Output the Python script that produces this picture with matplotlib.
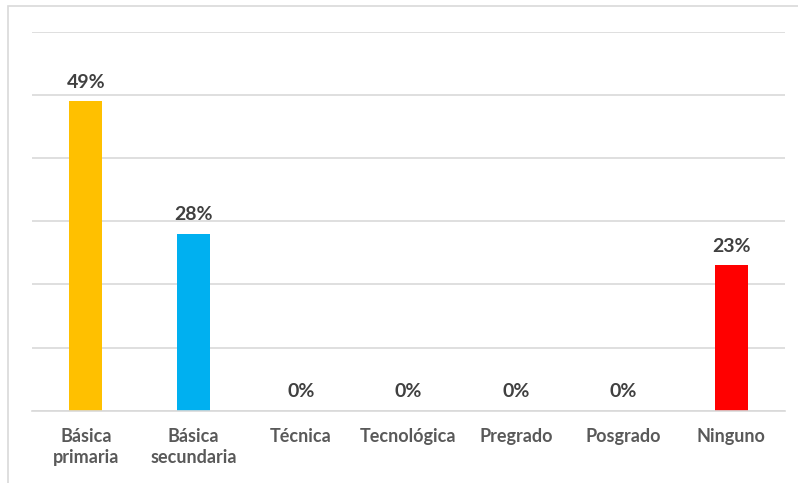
import matplotlib
matplotlib.use("Agg")
import matplotlib.pyplot as plt
from matplotlib.patches import Rectangle

categories = ["Básica\nprimaria", "Básica\nsecundaria", "Técnica", "Tecnológica",
              "Pregrado", "Posgrado", "Ninguno"]
values = [0.49, 0.28, 0.0, 0.0, 0.0, 0.0, 0.23]
colors = ["#FFC000", "#00B0F0", "#FFC000", "#FFC000", "#FFC000", "#FFC000", "#FF0000"]
value_labels = ["49%", "28%", "0%", "0%", "0%", "0%", "23%"]

W, H = 798, 483
fig = plt.figure(figsize=(W / 100, H / 100), dpi=100)
fig.patch.set_facecolor("white")

# outer chart border (cropped at right and bottom)
fig.add_artist(Rectangle((8 / W, -0.1), 1.2, 1 - 6 / H + 0.1, transform=fig.transFigure,
                         fill=False, edgecolor="#d9d9d9", linewidth=1.2))

ax = fig.add_axes([32 / W, (H - 410.7) / H, (785 - 32) / W, (410.7 - 31.7) / H])
x = list(range(len(categories)))
ax.bar(x, values, width=0.31, color=colors, zorder=2)
ax.set_xlim(-0.5, len(categories) - 0.5)
ax.set_ylim(0, 0.6)
ax.set_yticks([0, 0.1, 0.2, 0.3, 0.4, 0.5, 0.6])
ax.yaxis.grid(True, color="#d9d9d9", linewidth=1.2, zorder=0)
ax.tick_params(axis="y", left=False, labelleft=False)
ax.tick_params(axis="x", bottom=False, pad=9)
ax.set_xticks(x)
ax.set_xticklabels(categories, fontsize=13, fontweight="bold", color="#595959",
                   family=["Lato", "DejaVu Sans"], linespacing=1.25)
for s in ["left", "right", "top"]:
    ax.spines[s].set_visible(False)
ax.spines["bottom"].set_color("#d9d9d9")
ax.spines["bottom"].set_linewidth(1.2)
ax.set_facecolor("none")

for xi, v, lab in zip(x, values, value_labels):
    ax.annotate(lab, (xi, v), xytext=(0, 7.5), textcoords="offset points",
                ha="center", va="bottom", fontsize=14, fontweight="bold",
                color="#404040", family=["Lato", "DejaVu Sans"])

fig.savefig("out.png", dpi=100)
